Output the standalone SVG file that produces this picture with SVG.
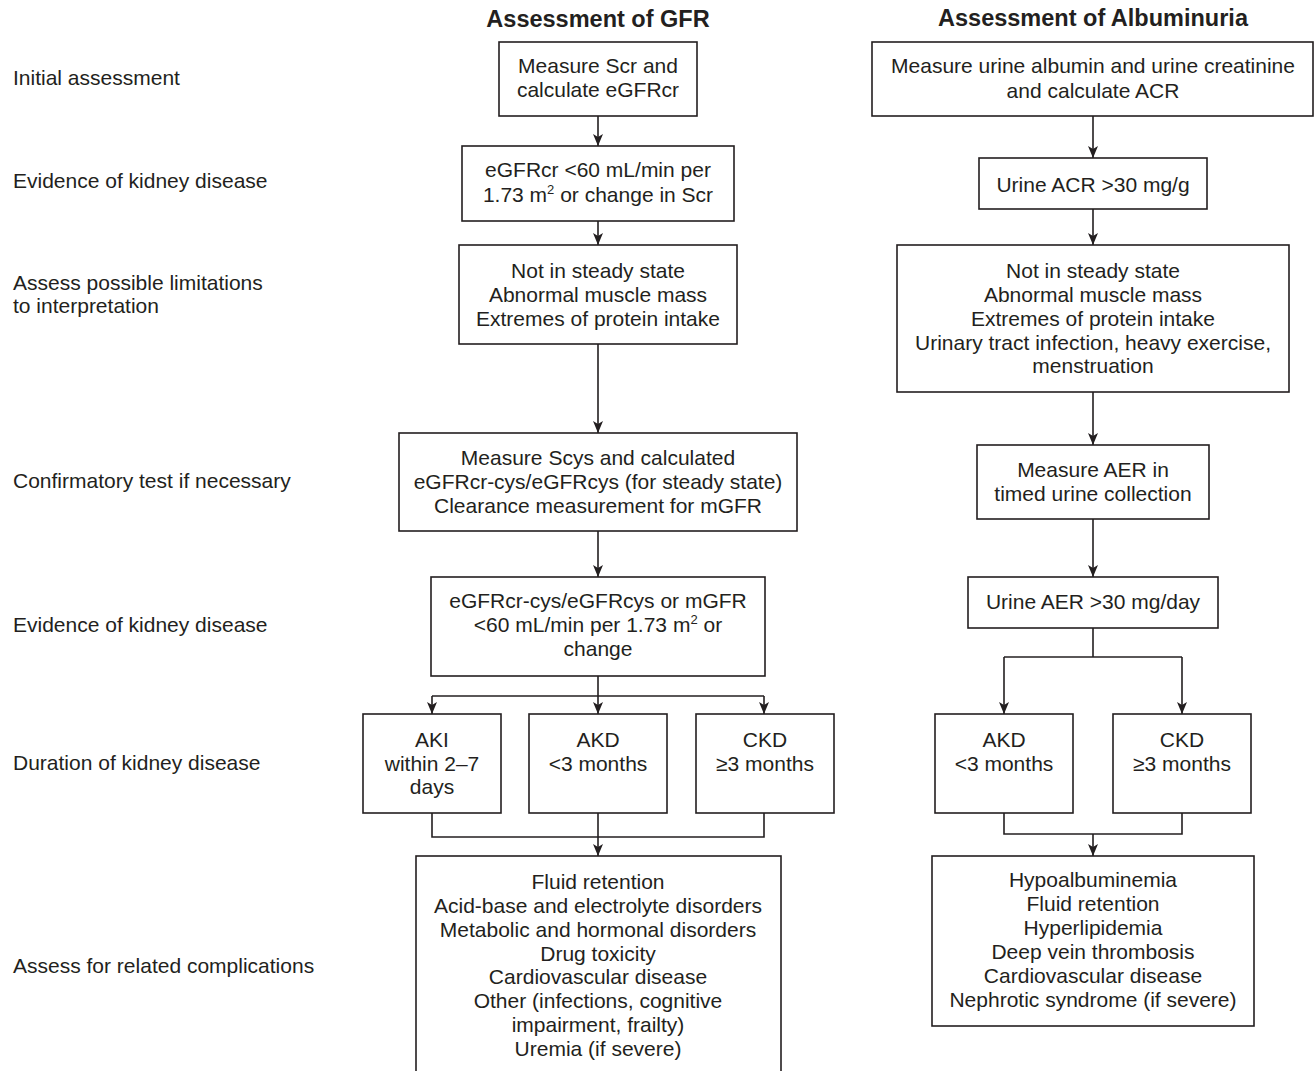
<svg xmlns="http://www.w3.org/2000/svg" width="1314" height="1071" viewBox="0 0 1314 1071">
<defs>
<style>
text{font-family:"Liberation Sans",Arial,Helvetica,sans-serif;font-size:21px;fill:#231f20}
.t{text-anchor:middle}
.h{font-weight:bold;font-size:23.5px;text-anchor:middle}
.box{fill:#fff;stroke:#231f20;stroke-width:1.6}
.ln{fill:none;stroke:#231f20;stroke-width:1.6}
.ar{fill:none;stroke:#231f20;stroke-width:1.6;marker-end:url(#ah)}
</style>
<marker id="ah" markerUnits="userSpaceOnUse" markerWidth="12" markerHeight="12" refX="12" refY="6" orient="auto">
<path d="M0,1 L12,6 L0,11 L3,6 Z" fill="#231f20"/>
</marker>
</defs>
<rect width="1314" height="1071" fill="#fff"/>

<g id="row-labels">
<text x="13" y="85">Initial assessment</text>
<text x="13" y="188">Evidence of kidney disease</text>
<text x="13" y="290">Assess possible limitations</text>
<text x="13" y="313">to interpretation</text>
<text x="13" y="488">Confirmatory test if necessary</text>
<text x="13" y="632">Evidence of kidney disease</text>
<text x="13" y="770">Duration of kidney disease</text>
<text x="13" y="973">Assess for related complications</text>
</g>

<g id="headers">
<text class="h" x="598" y="27">Assessment of GFR</text>
<text class="h" x="1093" y="26">Assessment of Albuminuria</text>
</g>

<g id="connectors">
<line class="ar" x1="598" y1="116" x2="598" y2="146"/>
<line class="ar" x1="598" y1="221" x2="598" y2="245"/>
<line class="ar" x1="598" y1="344" x2="598" y2="433"/>
<line class="ar" x1="598" y1="531" x2="598" y2="577"/>
<line class="ln" x1="598" y1="676" x2="598" y2="696"/>
<line class="ln" x1="432" y1="696" x2="764" y2="696"/>
<line class="ar" x1="432" y1="696" x2="432" y2="714"/>
<line class="ar" x1="598" y1="696" x2="598" y2="714"/>
<line class="ar" x1="764" y1="696" x2="764" y2="714"/>
<polyline class="ln" points="432,813 432,837 764,837 764,813"/>
<line class="ln" x1="598" y1="813" x2="598" y2="837"/>
<line class="ar" x1="598" y1="837" x2="598" y2="856"/>

<line class="ar" x1="1093" y1="116" x2="1093" y2="158"/>
<line class="ar" x1="1093" y1="209" x2="1093" y2="245"/>
<line class="ar" x1="1093" y1="392" x2="1093" y2="445"/>
<line class="ar" x1="1093" y1="519" x2="1093" y2="577"/>
<line class="ln" x1="1093" y1="628" x2="1093" y2="657"/>
<line class="ln" x1="1004" y1="657" x2="1182" y2="657"/>
<line class="ar" x1="1004" y1="657" x2="1004" y2="714"/>
<line class="ar" x1="1182" y1="657" x2="1182" y2="714"/>
<polyline class="ln" points="1004,813 1004,834 1182,834 1182,813"/>
<line class="ar" x1="1093" y1="834" x2="1093" y2="856"/>
</g>

<g id="gfr-initial">
<rect class="box" x="499" y="42" width="198" height="74"/>
<text class="t" x="598" y="73">Measure Scr and</text>
<text class="t" x="598" y="97">calculate eGFRcr</text>
</g>
<g id="gfr-evidence">
<rect class="box" x="462" y="146" width="272" height="75"/>
<text class="t" x="598" y="177">eGFRcr &lt;60 mL/min per</text>
<text class="t" x="598" y="202">1.73 m<tspan font-size="13" dy="-8">2</tspan><tspan dy="8"> or change in Scr</tspan></text>
</g>
<g id="gfr-limitations">
<rect class="box" x="459" y="245" width="278" height="99"/>
<text class="t" x="598" y="278">Not in steady state</text>
<text class="t" x="598" y="302">Abnormal muscle mass</text>
<text class="t" x="598" y="326">Extremes of protein intake</text>
</g>
<g id="gfr-confirm">
<rect class="box" x="399" y="433" width="398" height="98"/>
<text class="t" x="598" y="465">Measure Scys and calculated</text>
<text class="t" x="598" y="489">eGFRcr-cys/eGFRcys (for steady state)</text>
<text class="t" x="598" y="513">Clearance measurement for mGFR</text>
</g>
<g id="gfr-evidence2">
<rect class="box" x="431" y="577" width="334" height="99"/>
<text class="t" x="598" y="608">eGFRcr-cys/eGFRcys or mGFR</text>
<text class="t" x="598" y="632">&lt;60 mL/min per 1.73 m<tspan font-size="13" dy="-8">2</tspan><tspan dy="8"> or</tspan></text>
<text class="t" x="598" y="656">change</text>
</g>
<g id="gfr-aki">
<rect class="box" x="363" y="714" width="138" height="99"/>
<text class="t" x="432" y="747">AKI</text>
<text class="t" x="432" y="771">within 2–7</text>
<text class="t" x="432" y="794">days</text>
</g>
<g id="gfr-akd">
<rect class="box" x="529" y="714" width="138" height="99"/>
<text class="t" x="598" y="747">AKD</text>
<text class="t" x="598" y="771">&lt;3 months</text>
</g>
<g id="gfr-ckd">
<rect class="box" x="696" y="714" width="138" height="99"/>
<text class="t" x="765" y="747">CKD</text>
<text class="t" x="765" y="771">≥3 months</text>
</g>
<g id="gfr-complications">
<rect class="box" x="416" y="856" width="365" height="225"/>
<text class="t" x="598" y="889">Fluid retention</text>
<text class="t" x="598" y="913">Acid-base and electrolyte disorders</text>
<text class="t" x="598" y="937">Metabolic and hormonal disorders</text>
<text class="t" x="598" y="961">Drug toxicity</text>
<text class="t" x="598" y="984">Cardiovascular disease</text>
<text class="t" x="598" y="1008">Other (infections, cognitive</text>
<text class="t" x="598" y="1032">impairment, frailty)</text>
<text class="t" x="598" y="1056">Uremia (if severe)</text>
</g>

<g id="alb-initial">
<rect class="box" x="872" y="42" width="441" height="74"/>
<text class="t" x="1093" y="73">Measure urine albumin and urine creatinine</text>
<text class="t" x="1093" y="98">and calculate ACR</text>
</g>
<g id="alb-evidence">
<rect class="box" x="979" y="158" width="228" height="51"/>
<text class="t" x="1093" y="192">Urine ACR &gt;30 mg/g</text>
</g>
<g id="alb-limitations">
<rect class="box" x="897" y="245" width="392" height="147"/>
<text class="t" x="1093" y="278">Not in steady state</text>
<text class="t" x="1093" y="302">Abnormal muscle mass</text>
<text class="t" x="1093" y="326">Extremes of protein intake</text>
<text class="t" x="1093" y="350">Urinary tract infection, heavy exercise,</text>
<text class="t" x="1093" y="373">menstruation</text>
</g>
<g id="alb-confirm">
<rect class="box" x="977" y="445" width="232" height="74"/>
<text class="t" x="1093" y="477">Measure AER in</text>
<text class="t" x="1093" y="501">timed urine collection</text>
</g>
<g id="alb-evidence2">
<rect class="box" x="968" y="577" width="250" height="51"/>
<text class="t" x="1093" y="609">Urine AER &gt;30 mg/day</text>
</g>
<g id="alb-akd">
<rect class="box" x="935" y="714" width="138" height="99"/>
<text class="t" x="1004" y="747">AKD</text>
<text class="t" x="1004" y="771">&lt;3 months</text>
</g>
<g id="alb-ckd">
<rect class="box" x="1113" y="714" width="138" height="99"/>
<text class="t" x="1182" y="747">CKD</text>
<text class="t" x="1182" y="771">≥3 months</text>
</g>
<g id="alb-complications">
<rect class="box" x="932" y="856" width="322" height="170"/>
<text class="t" x="1093" y="887">Hypoalbuminemia</text>
<text class="t" x="1093" y="911">Fluid retention</text>
<text class="t" x="1093" y="935">Hyperlipidemia</text>
<text class="t" x="1093" y="959">Deep vein thrombosis</text>
<text class="t" x="1093" y="983">Cardiovascular disease</text>
<text class="t" x="1093" y="1007">Nephrotic syndrome (if severe)</text>
</g>
</svg>
